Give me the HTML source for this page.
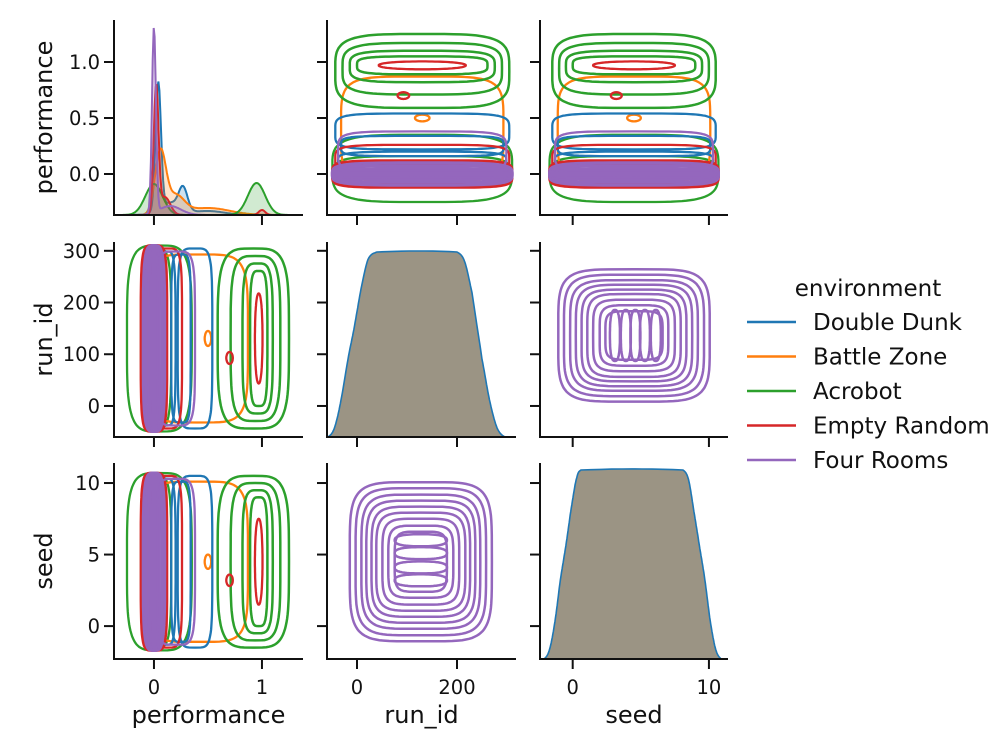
<!DOCTYPE html>
<html><head><meta charset="utf-8"><style>
body{margin:0;background:#fff}
svg text{font-family:"DejaVu Sans","Liberation Sans",sans-serif;fill:#111}
</style></head><body>
<svg id="chart" width="1008" height="750" viewBox="0 0 1008 750" xmlns="http://www.w3.org/2000/svg">
<g id="marks"></g><g id="axes"></g>
<g>
<text x="868" y="296" font-size="23" text-anchor="middle">environment</text>
<g id="legend"></g></g>
</svg>
<script>
const NS="http://www.w3.org/2000/svg";
const envNames=["Double Dunk","Battle Zone","Acrobot","Empty Random","Four Rooms"];
const envColors=["#1f77b4","#ff7f0e","#2ca02c","#d62728","#9467bd"];
// diagonal KDE components for performance: [mean, sd, height]
const perfKde=[
 [[0.04,0.025,127],[0.27,0.04,22],[0.15,0.1,12],[0.5,0.15,4]],
 [[0.06,0.05,62],[0.2,0.08,18],[0.5,0.2,7]],
 [[0.0,0.08,31],[0.95,0.08,32]],
 [[0.02,0.022,127],[0.1,0.05,18],[1.0,0.03,5]],
 [[0.0,0.018,186],[0.15,0.1,9]]
];
// plateau KDE knots (run_id and seed)
const runKnotsX=[-58,-45,-32,-18,-5,8,22,40,200,215,230,240,250,265,280,296];
const runKnotsY=[0,0.05,0.2,0.42,0.6,0.8,0.96,1,1,0.95,0.78,0.6,0.42,0.2,0.05,0];
const seedKnotsX=[-2.1,-1.7,-1.3,-0.9,-0.5,-0.1,0.3,0.6,8.1,8.5,8.9,9.3,9.7,10.1,10.5,10.9];
const seedKnotsY=[0,0.05,0.2,0.42,0.6,0.8,0.96,1,1,0.95,0.78,0.6,0.42,0.2,0.05,0];
// contour shapes perf vs u (u: run/290, seed/10): [env, perfC, uC, perfR, uR, exponent, width]
const perfContours=[
 [2,0.05,0.45,0.30,0.62,4,2.3],[2,0.02,0.45,0.14,0.6,4,2.3],
 [1,0.40,0.45,0.47,0.56,5,2.3],[1,0.5,0.45,0.03,0.05,2,2.3],
 [0,0.38,0.45,0.16,0.6,5,2.3],[0,0.25,0.45,0.09,0.56,5,2.3],[0,0.12,0.45,0.08,0.58,4,2.3],
 [2,0.92,0.45,0.33,0.6,4,2.5],[2,0.94,0.45,0.23,0.55,4,2.5],[2,0.96,0.45,0.14,0.5,4,2.5],[2,0.97,0.45,0.08,0.45,4,2.5],
 [3,0.97,0.45,0.035,0.3,2.2,2.3],[3,0.7,0.32,0.03,0.04,2,2.3],
 [3,0.12,0.45,0.14,0.6,5,2.3],[3,0.0,0.45,0.12,0.62,5,2.8],[3,0.0,0.45,0.08,0.62,5,2.8],
 [4,0.2,0.45,0.18,0.58,5,2.3],[4,0.0,0.45,0.1,0.62,4,3],[4,0.0,0.45,0.075,0.62,4,3],[4,0.0,0.45,0.05,0.62,4,3],[4,0.0,0.45,0.03,0.62,4,3],[4,0.0,0.45,0.012,0.6,4,3]
];
// nested rectangle contours run vs seed (u units)
const runHalf=[0.49,0.45,0.41,0.376,0.34,0.307,0.265,0.224,0.18];
const seedHalf=[0.556,0.514,0.469,0.427,0.385,0.343,0.30,0.252,0.21];
const ovalSeedA=[0.6,0.51,0.41,0.32];
const ovalSeedB=[0.31,0.39,0.46,0.53,0.61];

const cols=[{min:-0.37,max:1.38,a:114,b:303},{min:-60,max:318,a:327,b:516},{min:-2.4,max:11.4,a:540,b:728}];
const rows=[{min:-0.366,max:1.375,a:215,b:20},{min:-60,max:317,a:437,b:242},{min:-2.3,max:11.4,a:659,b:463}];
const sx=(c,v)=>cols[c].a+(v-cols[c].min)/(cols[c].max-cols[c].min)*(cols[c].b-cols[c].a);
const sy=(r,v)=>rows[r].a+(v-rows[r].min)/(rows[r].max-rows[r].min)*(rows[r].b-rows[r].a);
const uTo=[u=>u,u=>u*290,u=>u*10];
const marks=document.getElementById('marks'), axes=document.getElementById('axes');
function el(t,a,p){const e=document.createElementNS(NS,t);for(const k in a)e.setAttribute(k,a[k]);(p||marks).appendChild(e);return e;}
function clip(id,c,r){const cp=el('clipPath',{id:id});el('rect',{x:cols[c].a,y:rows[r].b,width:cols[c].b-cols[c].a,height:rows[r].a-rows[r].b},cp);return 'url(#'+id+')';}
function superPath(cx,cy,rx,ry,n){let d='';for(let i=0;i<=96;i++){const t=i/96*2*Math.PI,c=Math.cos(t),s=Math.sin(t);
 const x=cx+rx*Math.sign(c)*Math.pow(Math.abs(c),2/n),y=cy+ry*Math.sign(s)*Math.pow(Math.abs(s),2/n);d+=(i?'L':'M')+x.toFixed(1)+','+y.toFixed(1);}return d+'Z';}
{const g=el('g',{'clip-path':clip('c00',0,0)});
 
 
 perfKde.forEach((comps,i)=>{let pts=[];for(let k=0;k<=200;k++){const x=-0.37+k/200*1.75;let h=0;comps.forEach(([m,s,hh])=>h+=hh*Math.exp(-0.5*((x-m)/s)**2));pts.push([sx(0,x),rows[0].a-h]);}
  const d='M'+pts.map(p=>p[0].toFixed(1)+','+p[1].toFixed(1)).join('L');
  el('path',{d:d+'L'+sx(0,1.38)+','+rows[0].a+'L'+sx(0,-0.37)+','+rows[0].a+'Z',fill:envColors[i],'fill-opacity':0.22,stroke:'none'},g);
  const l=el('path',{d:d,fill:'none',stroke:envColors[i],'stroke-width':2},g);
  
  });}
function plateau(c,r,xs,ys,name){const top=r==1?252:470;let pts=[];
 for(let i=0;i<xs.length-1;i++){for(let k=0;k<10;k++){const t=k/10;const p0=ys[Math.max(i-1,0)],p1=ys[i],p2=ys[i+1],p3=ys[Math.min(i+2,ys.length-1)];
  const y=0.5*(2*p1+(-p0+p2)*t+(2*p0-5*p1+4*p2-p3)*t*t+(-p0+3*p1-3*p2+p3)*t*t*t);const x=xs[i]+(xs[i+1]-xs[i])*t;
  pts.push([sx(c,x),rows[r].a-(rows[r].a-top)*y]);}}
 pts.push([sx(c,xs[xs.length-1]),rows[r].a]);
 const d='M'+pts.map(p=>p[0].toFixed(1)+','+p[1].toFixed(1)).join('L');
 const f=el('path',{d:d+'Z',fill:'#9b9484',stroke:'#1f77b4','stroke-width':1.6});
 
 }
plateau(1,1,runKnotsX,runKnotsY,'run-id-kde');
plateau(2,2,seedKnotsX,seedKnotsY,'seed-kde');
[[1,0,false,1],[2,0,false,2],[0,1,true,1],[0,2,true,2]].forEach(([c,r,tr,v],pi)=>{
 const g=el('g',{'clip-path':clip('cp'+pi,c,r)});
 
 
 perfContours.forEach(([e,pc,uc,pr,ur,n,w])=>{
  const toU=uTo[v];let d;
  if(!tr){const cx=sx(c,toU(uc)),cy=sy(r,pc),rx=Math.abs(sx(c,toU(uc+ur))-cx),ry=Math.abs(sy(r,pc+pr)-cy);d=superPath(cx,cy,rx,ry,n);}
  else{const cx=sx(c,pc),cy=sy(r,toU(uc)),rx=Math.abs(sx(c,pc+pr)-cx),ry=Math.abs(sy(r,toU(uc+ur))-cy);d=superPath(cx,cy,rx,ry,n);}
  const p=el('path',{d:d,fill:'none',stroke:envColors[e],'stroke-width':w},g);
  
  });});
[[1,2,false,ovalSeedA],[2,1,true,ovalSeedB]].forEach(([c,r,tr,ov],pi)=>{
 const g=el('g',{'clip-path':clip('cr'+pi,c,r)});
 
 
 const rv=u=>u*290,svv=u=>u*10;
 runHalf.forEach((rh,i)=>{const sh=seedHalf[i];let d;
  if(!tr){const cx=sx(c,rv(0.44)),cy=sy(r,svv(0.45));d=superPath(cx,cy,Math.abs(sx(c,rv(0.44+rh))-cx),Math.abs(sy(r,svv(0.45+sh))-cy),5);}
  else{const cx=sx(c,svv(0.45)),cy=sy(r,rv(0.47));d=superPath(cx,cy,Math.abs(sx(c,svv(0.45+sh))-cx),Math.abs(sy(r,rv(0.47+rh*0.9))-cy),5);}
  const p=el('path',{d:d,fill:'none',stroke:'#9467bd','stroke-width':2.5},g);
  
  });
 ov.forEach(s=>{let d;
  if(!tr){const cx=sx(c,rv(0.44)),cy=sy(r,svv(s));d=superPath(cx,cy,Math.abs(sx(c,rv(0.62))-cx),6,2.6);}
  else{const cx=sx(c,svv(s)),cy=sy(r,rv(0.47));d=superPath(cx,cy,5,Math.abs(sy(r,rv(0.64))-cy),2.6);}
  const p=el('path',{d:d,fill:'none',stroke:'#9467bd','stroke-width':2.5},g);
  
  });});
const xTicks=[[0,1],[0,200],[0,10]],yTicks=[[0,0.5,1],[0,100,200,300],[0,5,10]];
const yFmt=[v=>v.toFixed(1),v=>String(v),v=>String(v)];
const xLabels=["performance","run_id","seed"];
for(let r=0;r<3;r++)for(let c=0;c<3;c++){
 const g=el('g',{},axes);
 
 
 el('path',{d:`M${cols[c].a},${rows[r].b}V${rows[r].a}H${cols[c].b}`,fill:'none',stroke:'#111','stroke-width':2},g);
 xTicks[c].forEach(v=>{const x=sx(c,v);el('line',{x1:x,x2:x,y1:rows[r].a,y2:rows[r].a+10,stroke:'#111','stroke-width':2},g);
  if(r==2){const t=el('text',{x:x,y:694,'font-size':19.5,'text-anchor':'middle'},g);t.textContent=v;}});
 yTicks[r].forEach(v=>{const y=sy(r,v);el('line',{x1:cols[c].a-10,x2:cols[c].a,y1:y,y2:y,stroke:'#111','stroke-width':2},g);
  if(c==0){const t=el('text',{x:cols[c].a-14,y:y+7,'font-size':19.5,'text-anchor':'end'},g);t.textContent=yFmt[r](v);}});
}
xLabels.forEach((l,c)=>{const t=el('text',{x:(cols[c].a+cols[c].b)/2,y:723,'font-size':24,'text-anchor':'middle'},axes);t.textContent=l;
 
 
 const cy=(rows[c].a+rows[c].b)/2;const u=el('text',{x:52,y:cy,'font-size':24,'text-anchor':'middle',transform:`rotate(-90 52 ${cy})`},axes);u.textContent=l;
 
 });
const lg=document.getElementById('legend');
envNames.forEach((n,i)=>{const y=322+i*34.5;const g=el('g',{},lg);
 
 
 el('line',{x1:747,x2:796,y1:y,y2:y,stroke:envColors[i],'stroke-width':2.4},g);
 const t=el('text',{x:813,y:y+8,'font-size':23},g);t.textContent=n;});
</script>
</body></html>
